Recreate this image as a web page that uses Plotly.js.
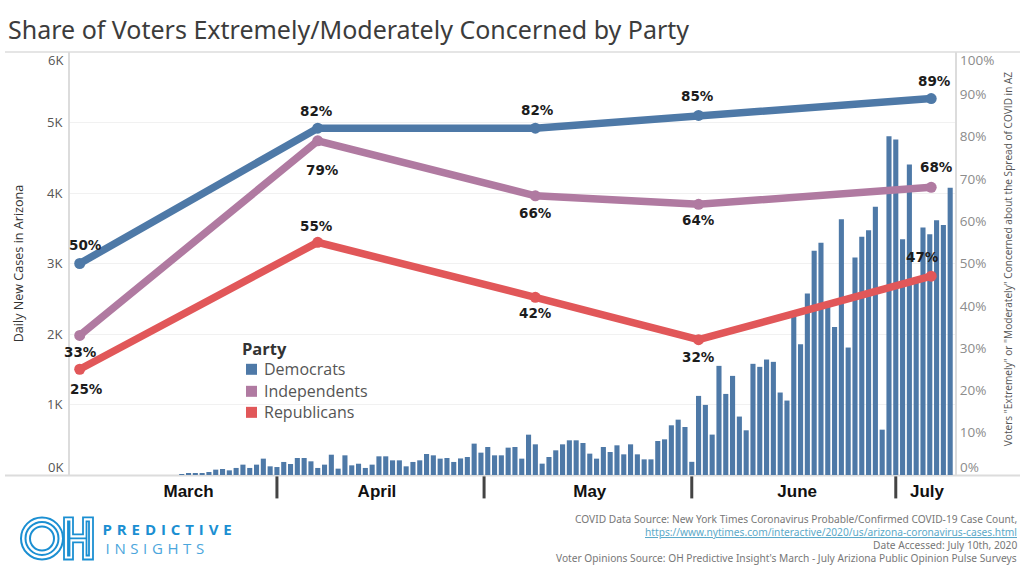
<!DOCTYPE html>
<html>
<head>
<meta charset="utf-8">
<script src="https://cdn.plot.ly/plotly-3.0.1.min.js"></script>
<style>
html,body{margin:0;padding:0;background:#fff;}
#chart{width:1024px;height:570px;}
g.annotation[data-index="0"] text{letter-spacing:4.9px;}
g.annotation[data-index="1"] text{letter-spacing:4.6px;}
</style>
</head>
<body>
<div id="chart"></div>
<script>
// ---- data ----
const firstCaseDate = '2020-03-18';
const dailyCases = [10,20,20,28,43,76,85,66,100,147,100,147,232,123,113,185,156,241,241,194,100,147,288,90,279,137,160,100,147,265,265,208,208,123,185,208,298,279,232,241,185,235,255,
445,317,397,279,279,388,397,232,572,435,161,255,350,435,492,492,454,303,232,397,326,421,293,435,293,222,222,482,506,705,785,681,187,
1122,994,573,1548,1150,1406,829,634,1577,1534,1638,1605,1170,1056,2260,1854,2574,3180,3293,2430,2100,3629,1808,3085,3378,3473,3804,643,4806,4760,3345,4406,2750,3510,3416,3615,3545,4073];
const surveyDates = ['2020-03-03','2020-04-07','2020-05-09','2020-06-02','2020-07-06 05:00'];
const democrats = [50,82,82,85,89];
const independents = [33,79,66,64,68];
const republicans = [25,55,42,32,47];
const partyNames = ['Democrats','Independents','Republicans'];
const partyColors = ['#4e79a7','#b07aa1','#e15759'];
const monthLabels = ['March','April','May','June','July'];
const monthLabelDates = ['2020-03-19','2020-04-15 17:00','2020-05-17','2020-06-16 12:00','2020-07-05 14:00'];
const monthBreaks = ['2020-04-01','2020-05-01 11:00','2020-06-01','2020-07-01'];
const leftTicks = [1000,2000,3000,4000,5000];
const leftTickText = ['1K','2K','3K','4K','5K'];
const rightTicks = [10,20,30,40,50,60,70,80,90];
const rightTickText = ['10%','20%','30%','40%','50%','60%','70%','80%','90%'];
// label offsets (px) per party, per survey
const demOffsets = [[6,19],[-1,17],[2,18],[-1,19],[3,18]];
const indOffsets = [[1,-17],[5,-29],[0,-17],[0,-16],[5,20]];
const repOffsets = [[7,-20],[-1,16],[0,-16],[0,-17],[-9,19]];

// ---- pixel helpers for decoration placed in paper space ----
const L=70,R=955,T=52,B=474.6;
const px=x=>(x-L)/(R-L), py=y=>(B-y)/(B-T);

const ann=[];
// logo words (indices 0,1 are letter-spaced via CSS)
ann.push({text:'PREDICTIVE',xref:'paper',yref:'paper',x:px(125),y:py(529),xanchor:'left',yanchor:'middle',showarrow:false,font:{family:'Open Sans',size:15,weight:700,color:'#1b8fd2'}});
ann.push({text:'INSIGHTS',xref:'paper',yref:'paper',x:px(122),y:py(548),xanchor:'left',yanchor:'middle',showarrow:false,font:{family:'Open Sans',size:15,color:'#4ba6dc'}});
// axis extremes
ann.push({text:'6K',xref:'paper',yref:'y',x:px(65),y:6000,yshift:-8,xanchor:'right',yanchor:'middle',showarrow:false,font:{family:'Open Sans',size:13,color:'#555'}});
ann.push({text:'0K',xref:'paper',yref:'y',x:px(65),y:0,yshift:8,xanchor:'right',yanchor:'middle',showarrow:false,font:{family:'Open Sans',size:13,color:'#555'}});
ann.push({text:'100%',xref:'paper',yref:'y',x:px(958),y:6000,yshift:-8,xanchor:'left',yanchor:'middle',showarrow:false,font:{family:'Open Sans',size:13.5,color:'#8c8c8c'}});
ann.push({text:'0%',xref:'paper',yref:'y',x:px(958),y:0,yshift:8,xanchor:'left',yanchor:'middle',showarrow:false,font:{family:'Open Sans',size:13.5,color:'#8c8c8c'}});
// right axis title
ann.push({text:'Voters "Extremely" or "Moderately" Concerned about the Spread of COVID in AZ',xref:'paper',yref:'paper',x:px(1008),y:py(259),xanchor:'center',yanchor:'middle',textangle:-90,showarrow:false,font:{family:'Open Sans',size:10.1,color:'#555'}});
// legend
ann.push({text:'<b>Party</b>',xref:'paper',yref:'paper',x:px(240),y:py(348),xanchor:'left',yanchor:'middle',showarrow:false,font:{family:'Open Sans',size:16.5,color:'#333'}});
const legendY=[369,391,412];
partyNames.forEach((n,i)=>ann.push({text:n,xref:'paper',yref:'paper',x:px(262),y:py(legendY[i]),xanchor:'left',yanchor:'middle',showarrow:false,font:{family:'Open Sans',size:16,color:'#555'}}));
// footer
const footer=[['COVID Data Source: New York Times Coronavirus Probable/Confirmed COVID-19 Case Count,',519,'#777'],
['<u>https://www.nytimes.com/interactive/2020/us/arizona-coronavirus-cases.html</u>',532,'#5ba9c9'],
['Date Accessed: July 10th, 2020',545,'#777'],
["Voter Opinions Source: OH Predictive Insight's March - July Ariziona Public Opinion Pulse Surveys",558,'#777']];
footer.forEach(f=>ann.push({text:f[0],xref:'paper',yref:'paper',x:px(1019),y:py(f[1]),xanchor:'right',yanchor:'middle',showarrow:false,font:{family:'Noto Sans',size:10.2,color:f[2]}}));
// point labels
[[democrats,demOffsets],[independents,indOffsets],[republicans,repOffsets]].forEach(([vals,offs])=>{
  vals.forEach((v,i)=>ann.push({text:v+'%',x:surveyDates[i],y:v,xref:'x',yref:'y2',xshift:offs[i][0],yshift:offs[i][1],xanchor:'center',yanchor:'middle',showarrow:false,font:{family:'DejaVu Sans',size:13.5,weight:700,color:'#1c1c1c'}}));
});

const shapes=[];
const frame='#dcdcdc';
shapes.push({type:'line',xref:'paper',yref:'paper',x0:px(5),x1:px(1020),y0:py(52),y1:py(52),line:{color:frame,width:1.5},layer:'below'});
shapes.push({type:'line',xref:'paper',yref:'paper',x0:px(5),x1:px(1020),y0:py(475),y1:py(475),line:{color:frame,width:2},layer:'below'});
monthBreaks.forEach(d=>shapes.push({type:'line',xref:'x',yref:'paper',x0:d,x1:d,y0:py(476),y1:py(498),line:{color:'#444',width:3}}));
partyColors.forEach((c,i)=>shapes.push({type:'rect',xref:'paper',yref:'paper',x0:px(246),x1:px(257),y0:py(legendY[i]-5.5),y1:py(legendY[i]+5.5),fillcolor:c,line:{width:0}}));
// logo
const logo='#1b8fd2';
[21,16.5,12].forEach(r=>shapes.push({type:'circle',xref:'paper',yref:'paper',x0:px(42-r),x1:px(42+r),y0:py(538-r),y1:py(538+r),line:{color:logo,width:2}}));
const hPath=(a,b,c,d,e,f,g,h)=>{
  const P=(x,y)=>px(x)+' '+py(y);
  return 'M'+[P(a,e),P(b,e),P(b,f),P(c,f),P(c,e),P(d,e),P(d,h),P(c,h),P(c,g),P(b,g),P(b,h),P(a,h)].join(' L')+' Z';
};
shapes.push({type:'path',xref:'paper',yref:'paper',path:hPath(64,73,83,93,517,534,542,559),line:{color:logo,width:1.8}});
shapes.push({type:'path',xref:'paper',yref:'paper',path:hPath(68,69.5,86.5,89,521,538,538,555),line:{color:logo,width:1.8}});

const traces=[
 {type:'bar',name:'Daily New Cases',x0:firstCaseDate,dx:86400000,y:dailyCases,xaxis:'x',yaxis:'y',marker:{color:partyColors[0]},showlegend:false,hoverinfo:'x+y'},
];
[democrats,independents,republicans].forEach((vals,i)=>traces.push({
  type:'scatter',mode:'lines+markers',name:partyNames[i],x:surveyDates,y:vals,xaxis:'x',yaxis:'y2',
  line:{color:partyColors[i],width:7.5},marker:{color:partyColors[i],size:11},showlegend:false}));

const layout={
 width:1024,height:570,
 paper_bgcolor:'#fff',plot_bgcolor:'#fff',
 margin:{l:L,r:1024-R,t:T,b:570-B,pad:0},
 bargap:0.25,
 title:{text:'Share of Voters Extremely/Moderately Concerned by Party',x:8/1024,xanchor:'left',xref:'container',y:1-30/570,yanchor:'middle',yref:'container',font:{family:'Noto Sans',size:25,color:'#3c3c3c'}},
 xaxis:{type:'date',range:['2020-03-01 13:41','2020-07-09 17:00'],tickmode:'array',tickvals:monthLabelDates,ticktext:monthLabels,ticks:'',showgrid:false,zeroline:false,showline:false,ticklabelstandoff:4,tickfont:{family:'Liberation Sans',size:17,weight:700,color:'#111'},tickangle:0},
 yaxis:{range:[0,6000],tickmode:'array',tickvals:leftTicks,ticktext:leftTickText,showgrid:true,gridcolor:'#f1f1f1',gridwidth:1,zeroline:false,showline:true,linecolor:frame,linewidth:2,ticks:'outside',ticklen:3,tickcolor:'rgba(0,0,0,0)',tickfont:{family:'Open Sans',size:13,color:'#555'},title:{text:'Daily New Cases in Arizona',standoff:21,font:{family:'Open Sans',size:12.6,color:'#333'}}},
 yaxis2:{overlaying:'y',side:'right',range:[0,100],tickmode:'array',tickvals:rightTicks,ticktext:rightTickText,showgrid:false,zeroline:false,showline:true,linecolor:frame,linewidth:2,ticks:'',tickfont:{family:'Open Sans',size:13.5,color:'#8c8c8c'}},
 annotations:ann,shapes:shapes,showlegend:false
};
Plotly.newPlot('chart',traces,layout,{displayModeBar:false,responsive:false});
</script>
</body>
</html>
